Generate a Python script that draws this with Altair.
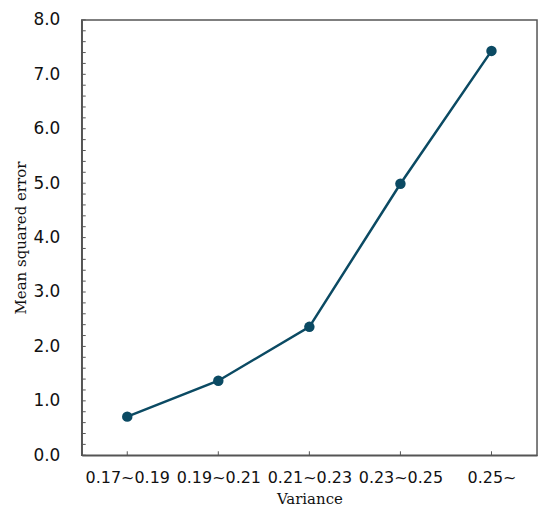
import altair as alt
import pandas as pd
import numpy as np

categories = ["0.17~0.19", "0.19~0.21", "0.21~0.23", "0.23~0.25", "0.25~"]
mse = [0.71, 1.37, 2.36, 4.99, 7.43]
y_ticks = [round(v, 1) for v in np.arange(0, 8.01, 0.2)]

W, H = 457, 437
COLOR = "#0b4a63"
AXIS_COLOR = "#555555"

df = pd.DataFrame({"Variance": categories, "MSE": mse})
ytick_df = pd.DataFrame({"t": y_ticks})
xtick_df = pd.DataFrame({"Variance": categories})

xscale = alt.Scale(type="point", domain=categories, padding=0.5)
yscale = alt.Scale(domain=[0, 8], nice=False)

x_enc = alt.X("Variance:O", scale=xscale, sort=categories,
              axis=alt.Axis(title="Variance", labelAngle=0, labelAlign="center", labelBaseline="top",
                            ticks=False, labelPadding=14,
                            labelFontSize=16, labelFont="DejaVu Sans", labelColor="#111",
                            titleFont="DejaVu Serif", titleFontSize=15, titleFontWeight="normal",
                            titleColor="#111", titlePadding=6,
                            domainColor=AXIS_COLOR, domainWidth=1.5))
y_enc = alt.Y("MSE:Q", scale=yscale,
              axis=alt.Axis(title="Mean squared error", values=list(range(0, 9)), format=".1f",
                            ticks=False, grid=False, labelPadding=22, labelFontSize=17,
                            labelFont="DejaVu Sans", labelColor="#111",
                            titleFont="DejaVu Serif", titleFontSize=15, titleFontWeight="normal",
                            titleColor="#111", titlePadding=4,
                            domainColor=AXIS_COLOR, domainWidth=1.5))

line = alt.Chart(df).mark_line(color=COLOR, strokeWidth=2.5).encode(x=x_enc, y=y_enc)
pts = alt.Chart(df).mark_circle(color=COLOR, opacity=1, size=110).encode(x=x_enc, y=y_enc)

yt = alt.Chart(ytick_df).mark_rule(color=AXIS_COLOR, strokeWidth=1).encode(
    y=alt.Y("t:Q", scale=yscale), x=alt.value(0), x2=alt.value(4))
xt = alt.Chart(xtick_df).mark_rule(color=AXIS_COLOR, strokeWidth=1).encode(
    x=alt.X("Variance:O", scale=xscale, sort=categories), y=alt.value(H), y2=alt.value(H - 4))

chart = alt.layer(yt, xt, line, pts).properties(
    width=W, height=H, padding={"left": 5, "top": 2, "right": 5, "bottom": 5}
).configure_view(stroke=AXIS_COLOR, strokeWidth=1.5).configure_axis(grid=False)

chart.save("out.html", embed_options={"renderer": "svg", "actions": False})
